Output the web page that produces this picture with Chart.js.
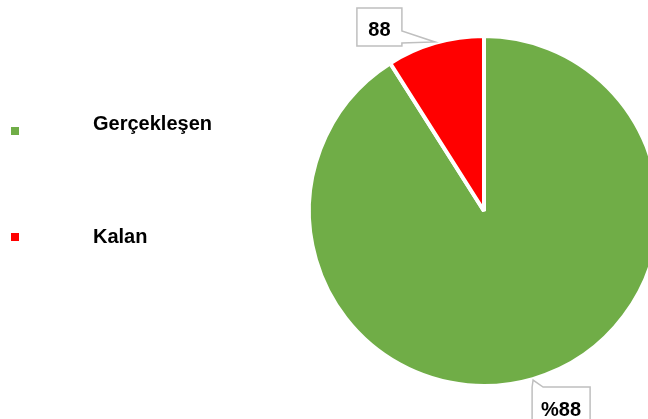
<!DOCTYPE html>
<html>
<head>
<meta charset="utf-8">
<script src="https://cdn.jsdelivr.net/npm/chart.js@4"></script>
<style>
  html, body { margin: 0; padding: 0; background: #fff; overflow: hidden; }
  .wrap { width: 648px; height: 419px; overflow: hidden; }
</style>
</head>
<body>
<div class="wrap"><canvas id="pie" width="700" height="419"></canvas></div>
<script>
const categories = ['Gerçekleşen', 'Kalan'];
const values = [91, 9];
const labelTexts = ['%88', '88'];
const colors = ['#70AD47', '#FF0000'];

// callout boxes, relative to the tip on the slice edge
const callouts = [
  { dx: -1, dy: 7, w: 58, h: 40, side: 'top', base: [0, 11] },
  { dx: -78, dy: -34, w: 45, h: 38, side: 'right', base: [23, 35] }
];

const calloutPlugin = {
  id: 'callouts',
  afterDatasetsDraw(chart) {
    const ctx = chart.ctx;
    const meta = chart.getDatasetMeta(0);
    ctx.save();
    meta.data.forEach((arc, i) => {
      const p = arc.getProps(['x', 'y', 'startAngle', 'endAngle', 'outerRadius'], true);
      const mid = (p.startAngle + p.endAngle) / 2;
      const r = p.outerRadius + 1;
      const tip = { x: p.x + Math.cos(mid) * r, y: p.y + Math.sin(mid) * r };
      const c = callouts[i];
      const b = { x: tip.x + c.dx, y: tip.y + c.dy, w: c.w, h: c.h };
      ctx.beginPath();
      ctx.moveTo(b.x, b.y);
      if (c.side === 'top') {
        ctx.lineTo(tip.x, tip.y);
        ctx.lineTo(b.x + c.base[1], b.y);
      }
      ctx.lineTo(b.x + b.w, b.y);
      if (c.side === 'right') {
        ctx.lineTo(b.x + b.w, b.y + c.base[0]);
        ctx.lineTo(tip.x, tip.y);
        ctx.lineTo(b.x + b.w, b.y + c.base[1]);
      }
      ctx.lineTo(b.x + b.w, b.y + b.h);
      ctx.lineTo(b.x, b.y + b.h);
      ctx.closePath();
      ctx.fillStyle = '#fff';
      ctx.fill();
      ctx.strokeStyle = '#bfbfbf';
      ctx.lineWidth = 1.5;
      ctx.stroke();
      ctx.fillStyle = '#000';
      ctx.font = 'bold 20px "Liberation Sans", Arial, sans-serif';
      ctx.textAlign = 'center';
      ctx.textBaseline = 'alphabetic';
      ctx.fillText(labelTexts[i], b.x + b.w / 2, b.y + 28.5);
    });
    ctx.restore();
  }
};

const legendRows = [
  { box: 127, text: 130 },
  { box: 233, text: 243 }
];

const legendPlugin = {
  id: 'sideLegend',
  afterDraw(chart) {
    const ctx = chart.ctx;
    ctx.save();
    chart.data.labels.forEach((lab, i) => {
      const row = legendRows[i];
      ctx.fillStyle = chart.data.datasets[0].backgroundColor[i];
      ctx.fillRect(11, row.box, 8, 8);
      ctx.fillStyle = '#000';
      ctx.font = 'bold 20px "Liberation Sans", Arial, sans-serif';
      ctx.textAlign = 'left';
      ctx.textBaseline = 'alphabetic';
      ctx.fillText(lab, 93, row.text);
    });
    ctx.restore();
  }
};

new Chart(document.getElementById('pie'), {
  type: 'pie',
  data: {
    labels: categories,
    datasets: [{
      data: values,
      backgroundColor: colors,
      borderColor: '#fff',
      borderWidth: 4
    }]
  },
  options: {
    responsive: false,
    devicePixelRatio: 1,
    animation: false,
    radius: 175,
    layout: { padding: { left: 300, right: 32, top: 18, bottom: 15 } },
    plugins: {
      legend: { display: false },
      tooltip: { enabled: false }
    }
  },
  plugins: [calloutPlugin, legendPlugin]
});
</script>
</body>
</html>
